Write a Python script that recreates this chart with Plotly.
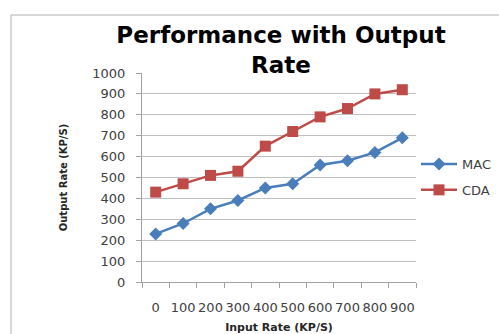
import plotly.graph_objects as go

categories = ["0", "100", "200", "300", "400", "500", "600", "700", "800", "900"]
mac = [230, 280, 350, 390, 450, 470, 560, 580, 620, 690]
cda = [430, 470, 510, 530, 650, 720, 790, 830, 900, 920]
y_ticks = [0, 100, 200, 300, 400, 500, 600, 700, 800, 900, 1000]

W, H = 499, 334
L, R, T, B = 142, 83, 73, 52
pw, ph = W - L - R, H - T - B

def px_x(x):
    return (x - L) / pw

def px_y(y):
    return (H - B - y) / ph

fig = go.Figure()
fig.add_trace(go.Scatter(
    x=categories, y=mac, name="MAC", mode="lines+markers",
    line=dict(color="#4a7ebb", width=2.5),
    marker=dict(symbol="diamond", size=10, color="#4a7ebb"),
    legendgroup="a",
))
fig.add_trace(go.Scatter(
    x=categories, y=cda, name="CDA", mode="lines+markers",
    line=dict(color="#be4b48", width=2.5),
    marker=dict(symbol="square", size=11, color="#be4b48"),
    legendgroup="b",
))

fig.add_shape(type="rect", xref="paper", yref="paper",
              x0=px_x(11), x1=px_x(520), y0=px_y(350), y1=px_y(15),
              line=dict(color="#b0b0b0", width=1), fillcolor="rgba(0,0,0,0)",
              layer="below")

fig.update_layout(
    width=W, height=H,
    margin=dict(l=L, r=R, t=T, b=B, autoexpand=False),
    paper_bgcolor="white", plot_bgcolor="white",
    font=dict(family="DejaVu Sans", color="#404040"),
    title=dict(text="<b>Performance with Output<br>Rate</b>",
               xref="container", yref="container",
               x=281 / W, xanchor="center", y=1 - 43 / H, yanchor="top",
               font=dict(family="DejaVu Sans", size=23, color="black"),
               automargin=False),
    showlegend=True,
    legend=dict(x=1.0, xanchor="left", y=px_y(149), yanchor="top",
                font=dict(size=13, color="#404040"),
                traceorder="grouped", tracegroupgap=6, itemwidth=36,
                bgcolor="rgba(0,0,0,0)"),
)
fig.update_xaxes(
    type="category", range=[-0.5, 9.5], automargin=False, tickangle=0,
    tickson="boundaries", ticks="outside", ticklen=5, tickcolor="#a0a0a0",
    showline=True, linecolor="#a0a0a0", showgrid=False,
    tickfont=dict(size=13, color="#404040"), ticklabelstandoff=13,
    title=dict(text="<b>Input Rate (KP/S)</b>", font=dict(size=11, color="#262626"), standoff=9),
)
fig.update_yaxes(
    range=[0, 1000], tickvals=y_ticks, ticks="outside", ticklen=5, tickcolor="#a0a0a0",
    automargin=False,
    showline=True, linecolor="#a0a0a0", showgrid=True, gridcolor="#bfbfbf", gridwidth=1,
    zeroline=False,
    tickfont=dict(size=13, color="#404040"), ticklabelstandoff=8,
    title=dict(text="<b>Output Rate (KP/S)</b>", font=dict(size=10, color="#262626"), standoff=22),
)

fig.write_html("out.html", config={"displayModeBar": False},
               post_script="document.body.style.margin='0';")
